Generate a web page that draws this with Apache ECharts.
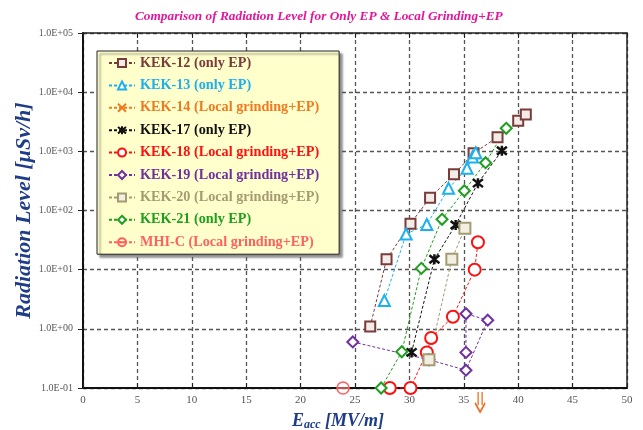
<!DOCTYPE html>
<html>
<head>
<meta charset="utf-8">
<script src="https://cdn.jsdelivr.net/npm/echarts@6/dist/echarts.min.js"></script>
<style>html,body{margin:0;padding:0;background:#fff;}#c{width:643px;height:430px;}</style>
</head>
<body>
<div id="c"></div>
<script>
// ---- data (Eacc [MV/m], radiation [uSv/h]) ----
const seriesNames = ['KEK-12 (only EP)','KEK-13 (only EP)','KEK-14 (Local grinding+EP)','KEK-17 (only EP)','KEK-18 (Local grinding+EP)','KEK-19 (Local grinding+EP)','KEK-20 (Local grinding+EP)','KEK-21 (only EP)','MHI-C (Local grinding+EP)'];
const kek12 = [[26.4,1.1],[27.9,15],[30.1,60],[31.9,165],[34.1,410],[35.9,930],[38.1,1730],[40.0,3300],[40.7,4200]];
const kek13 = [[27.7,3.0],[29.7,40],[31.6,58],[33.6,237],[35.3,517],[35.8,800],[36.1,950]];
const kek14 = [];
const kek14Arrow = [36.5, 0.1];
const kek17 = [[30.2,0.4],[32.3,15],[34.25,57],[36.3,290],[38.5,1020]];
const kek18 = [[28.2,0.1],[30.1,0.1],[31.6,0.4],[32.0,0.7],[34.0,1.6],[36.0,10],[36.3,29]];
const kek19 = [[24.8,0.6],[31.8,0.3],[35.2,0.2],[37.2,1.4],[35.2,1.8],[35.2,0.4]];
const kek20 = [[31.8,0.3],[33.9,15],[35.1,50]];
const kek21 = [[27.4,0.1],[29.3,0.41],[31.1,10.5],[33.0,71],[35.05,216],[37.0,643],[38.9,2450]];
const mhic = [[23.9,0.1]];
const xTicks = [0,5,10,15,20,25,30,35,40,45,50];
const yTickLabels = ['1.0E-01','1.0E+00','1.0E+01','1.0E+02','1.0E+03','1.0E+04','1.0E+05'];

const colors = ['#7a3b3b','#1cb0ee','#f07a22','#111111','#ff1010','#7030a0','#a59a72','#1f9f1f','#ff6060'];
const serif = '"Liberation Serif","DejaVu Serif",serif';

const starPath = 'path://M1,1L9,9M9,1L1,9M5,0L5,10';
const xPath = 'path://M1,1L9,9M9,1L1,9';
const thetaPath = 'path://M0,5A5,5 0 1,1 10,5A5,5 0 1,1 0,5ZM0,5L10,5';
const arrowPath = 'path://M3,0L3,13M7,0L7,13M0,11L5,20L10,11';

function mk(name, data, color, symbol, size, fill, bw) {
  return {
    name: name, type: 'line', data: data, clip: false,
    symbol: symbol, symbolSize: size,
    lineStyle: {color: color, width: 1, type: [3,2]},
    itemStyle: {color: fill, borderColor: color, borderWidth: bw},
    emphasis: {disabled: true}
  };
}

const series = [
  mk(seriesNames[0], kek12, colors[0], 'rect', 10, '#f3ece8', 2),
  mk(seriesNames[1], kek13, colors[1], 'triangle', 11, '#ffffff', 2),
  Object.assign(mk(seriesNames[2], kek14, colors[2], xPath, 9, 'rgba(0,0,0,0)', 2.5), {
    markPoint: {
      symbol: arrowPath, symbolSize: [10, 20], symbolOffset: [0, 14], silent: true,
      label: {show: false},
      itemStyle: {color: 'rgba(0,0,0,0)', borderColor: '#f36a1c', borderWidth: 1.8},
      data: [{coord: kek14Arrow}]
    }
  }),
  mk(seriesNames[3], kek17, colors[3], starPath, 10, '#111', 2.5),
  mk(seriesNames[4], kek18, colors[4], 'circle', 12, '#ffffff', 2),
  mk(seriesNames[5], kek19, colors[5], 'diamond', 11, '#ffffff', 2),
  mk(seriesNames[6], kek20, colors[6], 'rect', 11, '#f1efe2', 2),
  mk(seriesNames[7], kek21, colors[7], 'diamond', 11, '#ffffff', 2),
  mk(seriesNames[8], mhic, colors[8], thetaPath, 12, 'rgba(0,0,0,0)', 1.5)
];

const chart = echarts.init(document.getElementById('c'), null, {renderer: 'canvas'});
chart.setOption({
  animation: false,
  backgroundColor: '#ffffff',
  title: {
    text: 'Comparison of Radiation Level for Only EP & Local Grinding+EP',
    left: 130, top: 5,
    textStyle: {color: '#e3169b', fontFamily: serif, fontStyle: 'italic', fontWeight: 'bold', fontSize: 13.3}
  },
  grid: {left: 83, right: 16, top: 33, bottom: 42, show: false, containLabel: false, outerBoundsMode: 'none'},
  legend: {
    orient: 'vertical', left: 97, top: 51,
    padding: [5, 20, 5, 11],
    backgroundColor: '#ffffcc', borderColor: '#222', borderWidth: 1,
    shadowColor: 'rgba(90,90,90,0.7)', shadowBlur: 2, shadowOffsetX: 3, shadowOffsetY: 3,
    itemWidth: 26, itemHeight: 10, itemGap: 8.4,
    selectedMode: false,
    textStyle: {fontFamily: serif, fontWeight: 'bold', fontSize: 14.2, lineHeight: 14},
    data: seriesNames.map((n, i) => ({name: n, textStyle: {color: colors[i]}}))
  },
  xAxis: [{
    type: 'value', min: 0, max: 50, interval: 5, position: 'bottom',
    axisLine: {show: true, onZero: false, lineStyle: {color: '#111', width: 2}},
    axisTick: {show: true, inside: true, length: 5, lineStyle: {color: '#222'}},
    axisLabel: {color: '#555', fontFamily: serif, fontSize: 11, margin: 7,
      formatter: v => (xTicks.indexOf(v) >= 0 ? String(v) : '')},
    splitLine: {show: true, lineStyle: {color: '#555', type: [4, 3], width: 1.3}},
    name: '{e|E}{s|acc}{n| [MV/m]}', nameLocation: 'middle', nameGap: 23,
    nameTextStyle: {
      padding: [0, 34, 0, 0],
      rich: {
        e: {fontFamily: serif, fontStyle: 'italic', fontWeight: 'bold', fontSize: 18, color: '#1f3c88'},
        s: {fontFamily: serif, fontStyle: 'italic', fontWeight: 'bold', fontSize: 12, color: '#1f3c88', verticalAlign: 'bottom', padding: [8, 0, 0, 0]},
        n: {fontFamily: serif, fontStyle: 'italic', fontWeight: 'bold', fontSize: 18, color: '#1f3c88'}
      }
    }
  }, {
    type: 'value', min: 0, max: 50, interval: 5, position: 'top',
    axisLine: {show: true, onZero: false, lineStyle: {color: '#222', width: 1.5}},
    axisTick: {show: true, inside: true, length: 5, lineStyle: {color: '#222'}},
    axisLabel: {show: false}, splitLine: {show: false}
  }],
  yAxis: [{
    type: 'log', logBase: 10, min: 0.1, max: 100000,
    axisLine: {show: true, onZero: false, lineStyle: {color: '#111', width: 2}},
    axisTick: {show: true, inside: false, length: 5, lineStyle: {color: '#222'}},
    minorTick: {show: false},
    axisLabel: {color: '#555', fontFamily: serif, fontSize: 10, margin: 10,
      formatter: v => yTickLabels[Math.round(Math.log10(v)) + 1] || ''},
    splitLine: {show: true, lineStyle: {color: '#555', type: [4, 3], width: 1.3}},
    name: 'Radiation Level [μSv/h]', nameLocation: 'middle', nameGap: 48, nameMoveOverlap: false,
    nameTextStyle: {fontFamily: serif, fontStyle: 'italic', fontWeight: 'bold', fontSize: 22, color: '#1f3c88'}
  }, {
    type: 'log', logBase: 10, min: 0.1, max: 100000, position: 'right',
    axisLine: {show: true, onZero: false, lineStyle: {color: '#222', width: 1.5}},
    axisTick: {show: false}, axisLabel: {show: false}, splitLine: {show: false}
  }],
  series: series
});
</script>
</body>
</html>
